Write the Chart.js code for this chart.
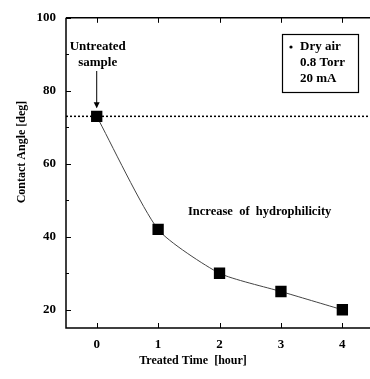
<!DOCTYPE html>
<html><head><meta charset="utf-8">
<script src="https://cdn.jsdelivr.net/npm/chart.js@4"></script>
<style>html,body{margin:0;padding:0;background:#fff;overflow:hidden}#wrap{width:370px;height:379px}</style>
</head><body><div id="wrap"><canvas id="c" width="370" height="379"></canvas></div>
<script>
const hours = [0, 1, 2, 3, 4];
const contactAngle = [73, 42, 30, 25, 20];
const untreatedLevel = 73;
const xTicks = [0, 1, 2, 3, 4];
const yTicks = [20, 40, 60, 80, 100];
const yMinorTicks = [30, 50, 70, 90];
const xRange = [-0.5, 4.45];
const yRange = [15, 100];
const legendLines = ['Dry air', '0.8 Torr', '20 mA'];

const FONT = '"Liberation Serif", "Times New Roman", serif';

const decor = {
  id: 'decor',
  afterDraw(chart) {
    const {ctx, chartArea: a, scales: {x, y}} = chart;
    ctx.save();
    ctx.strokeStyle = '#000';
    ctx.lineWidth = 1.5;
    ctx.beginPath();
    ctx.moveTo(a.left, a.top); ctx.lineTo(a.left, a.bottom); ctx.lineTo(a.right, a.bottom);
    ctx.moveTo(a.left, a.top); ctx.lineTo(a.right, a.top);
    ctx.stroke();
    ctx.lineWidth = 1;
    ctx.beginPath();
    xTicks.forEach(v => {
      const px = Math.round(x.getPixelForValue(v)) + 0.5;
      ctx.moveTo(px, a.bottom); ctx.lineTo(px, a.bottom - 5);
      ctx.moveTo(px, a.top); ctx.lineTo(px, a.top + 5);
    });
    yTicks.forEach(v => {
      const py = Math.round(y.getPixelForValue(v)) + 0.5;
      ctx.moveTo(a.left, py); ctx.lineTo(a.left + 5, py);
    });
    yMinorTicks.forEach(v => {
      const py = Math.round(y.getPixelForValue(v)) + 0.5;
      ctx.moveTo(a.left, py); ctx.lineTo(a.left + 3, py);
    });
    ctx.stroke();

    ctx.fillStyle = '#000';
    ctx.font = 'bold 12px ' + FONT;
    ctx.textAlign = 'center'; ctx.textBaseline = 'middle';
    ctx.fillText('Treated Time  [hour]', 193, 361);
    ctx.save();
    ctx.translate(22, 152); ctx.rotate(-Math.PI / 2);
    ctx.fillText('Contact Angle [deg]', 0, 0);
    ctx.restore();

    const px0 = x.getPixelForValue(hours[0]);
    const py0 = y.getPixelForValue(contactAngle[0]);
    ctx.font = 'bold 13px ' + FONT;
    ctx.fillText('Untreated', px0 + 1, 47);
    ctx.fillText('sample', px0 + 1, 63);
    ctx.beginPath();
    ctx.moveTo(px0, 71); ctx.lineTo(px0, py0 - 9);
    ctx.stroke();
    ctx.beginPath();
    ctx.moveTo(px0 - 3, py0 - 14); ctx.lineTo(px0 + 3, py0 - 14); ctx.lineTo(px0, py0 - 8); ctx.closePath();
    ctx.fill();

    ctx.font = 'bold 12.5px ' + FONT;
    ctx.textAlign = 'left';
    ctx.fillText('Increase  of  hydrophilicity', 188, 212);

    ctx.lineWidth = 1.2;
    ctx.strokeRect(282.5, 34.5, 76, 58);
    ctx.font = 'bold 13px ' + FONT;
    ctx.textAlign = 'left';
    ctx.beginPath(); ctx.arc(291, 47, 1.6, 0, Math.PI * 2); ctx.fill();
    ctx.fillText(legendLines[0], 300, 47);
    ctx.fillText(legendLines[1], 300, 63);
    ctx.fillText(legendLines[2], 300, 79);
    ctx.restore();
  }
};

new Chart(document.getElementById('c'), {
  type: 'scatter',
  data: {
    datasets: [
      {
        data: hours.map((h, i) => ({x: h, y: contactAngle[i]})),
        showLine: true,
        borderColor: '#444',
        borderWidth: 1,
        tension: 0.2,
        pointStyle: 'rect',
        pointRadius: 8,
        pointBackgroundColor: '#000',
        pointBorderColor: '#000',
        pointBorderWidth: 0,
        order: 1
      },
      {
        data: [{x: xRange[0], y: untreatedLevel}, {x: xRange[1], y: untreatedLevel}],
        showLine: true,
        borderColor: '#000',
        borderWidth: 1.5,
        borderDash: [2, 2],
        pointRadius: 0,
        order: 2
      }
    ]
  },
  options: {
    responsive: false,
    animation: false,
    layout: {autoPadding: false, padding: {left: 0, right: 0, top: 12, bottom: 0}},
    plugins: {legend: {display: false}, tooltip: {enabled: false}},
    scales: {
      x: {
        type: 'linear', min: xRange[0], max: xRange[1],
        afterBuildTicks: s => { s.ticks = xTicks.map(v => ({value: v})); },
        afterFit: s => { s.height = 51; s.paddingRight = 0; s.paddingLeft = 0; },
        grid: {display: false, drawTicks: false},
        border: {display: false},
        ticks: {color: '#000', font: {family: FONT, size: 13, weight: 'bold'}, padding: 9, maxRotation: 0}
      },
      y: {
        min: yRange[0], max: yRange[1],
        afterBuildTicks: s => { s.ticks = yTicks.map(v => ({value: v})); },
        afterFit: s => { s.width = 66; },
        grid: {display: false, drawTicks: false},
        border: {display: false},
        ticks: {color: '#000', font: {family: FONT, size: 13, weight: 'bold'}, padding: 10}
      }
    }
  },
  plugins: [decor]
});
</script></body></html>
